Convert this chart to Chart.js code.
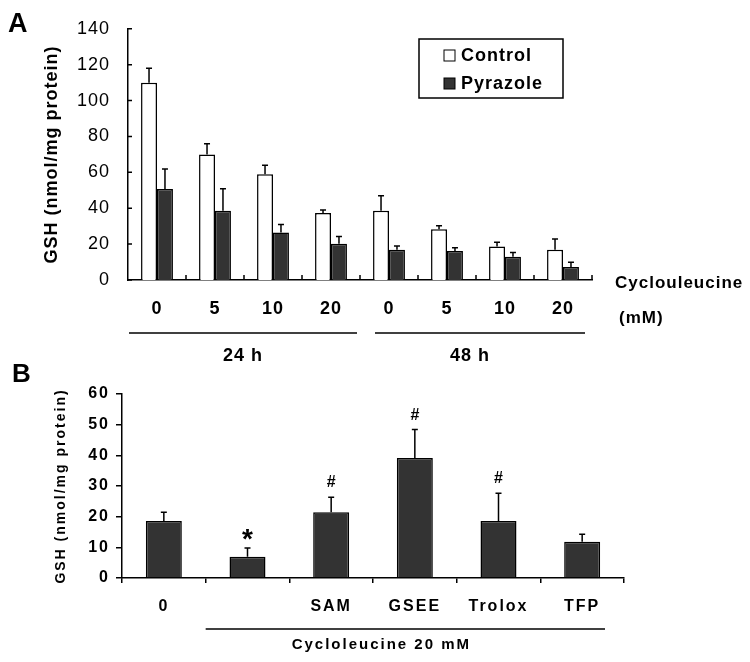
<!DOCTYPE html>
<html>
<head>
<meta charset="utf-8">
<script src="https://cdn.jsdelivr.net/npm/chart.js@4"></script>
<style>
  body { margin: 0; background: #fff; }
  #wrap { position: relative; width: 750px; height: 662px; }
  #chartA { position: absolute; left: 0; top: 0; }
  #chartB { position: absolute; left: 0; top: 340px; }
</style>
</head>
<body>
<div id="wrap">
  <canvas id="chartA" width="750" height="370"></canvas>
  <canvas id="chartB" width="750" height="322"></canvas>
</div>
<script>
// ---------------- data panel A : GSH vs cycloleucine dose -----------------
const doseLabels = ['0', '5', '10', '20', '0', '5', '10', '20'];
const timeGroups = ['24 h', '48 h'];
const controlGSH = [110, 70, 59, 37.3, 38.6, 28.3, 18.7, 16.9];
const controlErr = [8, 6, 5, 1.7, 8.3, 2, 2.3, 5.9];
const pyrazoleGSH = [50.7, 38.6, 26.5, 20.2, 16.9, 16.2, 12.9, 7.3];
const pyrazoleErr = [11.2, 12.3, 4.5, 4.1, 2, 1.8, 2.4, 2.6];
const yTicksA = [0, 20, 40, 60, 80, 100, 120, 140];

// ---------------- data panel B : cycloleucine 20 mM + treatments -----------------
const treatLabels = ['0', '', 'SAM', 'GSEE', 'Trolox', 'TFP'];
const treatGSH = [18.6, 6.9, 21.4, 39.1, 18.6, 11.8];
const treatErr = [2.8, 2.85, 4.9, 9.3, 9, 2.5];
const treatMarks = ['', '*', '#', '#', '#', ''];
const yTicksB = [0, 10, 20, 30, 40, 50, 60];

const family = '"Liberation Sans", Arial, sans-serif';
const dark = '#333333';

function spacing(px) {
	return {
		id: 'spacing',
		beforeDraw(chart) { chart.ctx.letterSpacing = px; }
	};
}

// error bars (upper only) drawn from the bar top
const errorBars = {
	id: 'errorBars',
	afterDatasetsDraw(chart) {
		const ctx = chart.ctx;
		const y = chart.scales.y;
		ctx.save();
		ctx.strokeStyle = '#000';
		ctx.lineWidth = 1.5;
		chart.data.datasets.forEach(function(ds, i) {
			chart.getDatasetMeta(i).data.forEach(function(bar, j) {
				const top = y.getPixelForValue(ds.data[j] + ds.errors[j]);
				ctx.beginPath();
				ctx.moveTo(bar.x, bar.y);
				ctx.lineTo(bar.x, top);
				ctx.moveTo(bar.x - 3, top);
				ctx.lineTo(bar.x + 3, top);
				ctx.stroke();
			});
		});
		ctx.restore();
	}
};

// ---------------- panel A extras -----------------
const panelA = {
	id: 'panelA',
	afterDraw(chart) {
		const ctx = chart.ctx;
		const x = chart.scales.x, y = chart.scales.y;
		const area = chart.chartArea;
		ctx.save();
		ctx.fillStyle = '#000';
		ctx.strokeStyle = '#000';

		// panel letter
		ctx.font = 'bold 27px ' + family;
		ctx.textBaseline = 'alphabetic';
		ctx.textAlign = 'left';
		ctx.fillText('A', 8, 32);

		// inward ticks
		ctx.lineWidth = 1.5;
		ctx.beginPath();
		yTicksA.forEach(function(v) {
			const py = y.getPixelForValue(v);
			ctx.moveTo(area.left, py);
			ctx.lineTo(area.left + 4, py);
		});
		for (let i = 0; i < doseLabels.length; i++) {
			const px = x.getPixelForValue(i + 0.5);
			ctx.moveTo(px, area.bottom);
			ctx.lineTo(px, area.bottom - 5);
		}
		ctx.stroke();

		// time groups
		const lineY = area.bottom + 53;
		const groups = [
			[x.getPixelForValue(-0.5) + 1, x.getPixelForValue(3.5) - 3],
			[x.getPixelForValue(3.5) + 15, x.getPixelForValue(7.5) - 7]
		];
		ctx.font = 'bold 18px ' + family;
		ctx.textAlign = 'center';
		ctx.textBaseline = 'middle';
		groups.forEach(function(g, i) {
			ctx.beginPath();
			ctx.moveTo(g[0], lineY);
			ctx.lineTo(g[1], lineY);
			ctx.stroke();
			ctx.fillText(timeGroups[i], (g[0] + g[1]) / 2 - (i === 1 ? 10 : 0), lineY + 23);
		});

		// axis name on the right
		ctx.font = 'bold 17px ' + family;
		ctx.textAlign = 'left';
		ctx.fillText('Cyclouleucine', area.right + 23, area.bottom + 3);
		ctx.fillText('(mM)', area.right + 27, area.bottom + 38);

		// legend
		ctx.lineWidth = 1.5;
		ctx.strokeRect(419, 39, 144, 59);
		ctx.font = 'bold 18px ' + family;
		chart.data.datasets.forEach(function(ds, i) {
			const cy = 56 + i * 28;
			ctx.fillStyle = ds.backgroundColor;
			ctx.fillRect(444, cy - 6, 11, 11);
			ctx.lineWidth = 1;
			ctx.strokeRect(444, cy - 6, 11, 11);
			ctx.fillStyle = '#000';
			ctx.fillText(ds.label, 461, cy);
		});
		ctx.restore();
	}
};

// ---------------- panel B extras -----------------
const panelB = {
	id: 'panelB',
	afterDraw(chart) {
		const ctx = chart.ctx;
		const x = chart.scales.x, y = chart.scales.y;
		const area = chart.chartArea;
		ctx.save();
		ctx.fillStyle = '#000';
		ctx.strokeStyle = '#000';

		ctx.font = 'bold 26px ' + family;
		ctx.textAlign = 'left';
		ctx.textBaseline = 'alphabetic';
		ctx.fillText('B', 12, 42);

		// significance marks
		ctx.textAlign = 'center';
		const meta = chart.getDatasetMeta(0);
		treatMarks.forEach(function(m, i) {
			if (!m) return;
			const top = y.getPixelForValue(treatGSH[i] + treatErr[i]) - 16;
			if (m === '*') {
				ctx.font = 'bold 28px ' + family;
				ctx.fillText(m, meta.data[i].x + 1, top + 16);
			} else {
				ctx.font = 'bold 16px ' + family;
				ctx.fillText(m, meta.data[i].x + 1, top + 6);
			}
		});

		// group line
		const lineY = area.bottom + 51;
		const x0 = x.getPixelForValue(0.5);
		const x1 = x.getPixelForValue(5.5) - 19;
		ctx.lineWidth = 1.5;
		ctx.beginPath();
		ctx.moveTo(x0, lineY);
		ctx.lineTo(x1, lineY);
		ctx.stroke();
		ctx.font = 'bold 15px ' + family;
		ctx.textBaseline = 'middle';
		ctx.fillText('Cycloleucine 20 mM', (x0 + x1) / 2 - 24, lineY + 16);
		ctx.restore();
	}
};

// ---------------- chart A -----------------
const chartA = new Chart(document.getElementById('chartA'), {
	type: 'bar',
	data: {
		labels: doseLabels,
		datasets: [{
			label: 'Control',
			data: controlGSH,
			errors: controlErr,
			backgroundColor: '#ffffff',
			borderColor: '#000',
			borderWidth: 1.5,
			categoryPercentage: 0.55,
			barPercentage: 1
		}, {
			label: 'Pyrazole',
			data: pyrazoleGSH,
			errors: pyrazoleErr,
			backgroundColor: dark,
			borderColor: '#000',
			borderWidth: 1.5,
			categoryPercentage: 0.55,
			barPercentage: 1
		}]
	},
	options: {
		responsive: false,
		animation: false,
		layout: { padding: { top: 26, right: 158, left: 0, bottom: 0 } },
		plugins: { legend: { display: false }, tooltip: { enabled: false } },
		scales: {
			x: {
				grid: { display: false, drawTicks: false },
				border: { color: '#000', width: 1.5 },
				ticks: { color: '#000', padding: 18, font: { family: family, size: 18, weight: 'bold' } },
				afterFit(s) { s.height = 90; }
			},
			y: {
				min: 0,
				max: 140,
				grid: { display: false, drawTicks: false },
				border: { color: '#000', width: 1.5 },
				ticks: { stepSize: 20, color: '#000', padding: 18, font: { family: family, size: 18 } },
				title: {
					display: true,
					text: 'GSH (nmol/mg protein)',
					color: '#000',
					font: { family: family, size: 18, weight: 'bold' },
					padding: { top: 41, bottom: 0 }
				},
				afterFit(s) { s.width = 128; }
			}
		}
	},
	plugins: [spacing('1px'), errorBars, panelA]
});

// ---------------- chart B -----------------
const chartB = new Chart(document.getElementById('chartB'), {
	type: 'bar',
	data: {
		labels: treatLabels,
		datasets: [{
			label: 'GSH',
			data: treatGSH,
			errors: treatErr,
			backgroundColor: dark,
			borderColor: '#000',
			borderWidth: 1.5,
			categoryPercentage: 1,
			barPercentage: 0.43
		}]
	},
	options: {
		responsive: false,
		animation: false,
		layout: { padding: { top: 54, right: 126, left: 0, bottom: 0 } },
		plugins: { legend: { display: false }, tooltip: { enabled: false } },
		scales: {
			x: {
				grid: { display: true, drawOnChartArea: false, drawTicks: true, tickLength: 5, color: '#000', lineWidth: 1.5 },
				border: { color: '#000', width: 1.5 },
				ticks: { color: '#000', padding: 14, font: { family: family, size: 16, weight: 'bold' } },
				afterFit(s) { s.height = 84; }
			},
			y: {
				min: 0,
				max: 60,
				grid: { display: true, drawOnChartArea: false, drawTicks: true, tickLength: 6, color: '#000', lineWidth: 1.5 },
				border: { color: '#000', width: 1.5 },
				ticks: { stepSize: 10, color: '#000', padding: 6, font: { family: family, size: 16, weight: 'bold' } },
				title: {
					display: true,
					text: 'GSH (nmol/mg protein)',
					color: '#000',
					font: { family: family, size: 14, weight: 'bold' },
					padding: { top: 53, bottom: 0 }
				},
				afterFit(s) { s.width = 122; }
			}
		}
	},
	plugins: [spacing('2px'), errorBars, panelB]
});
</script>
</body>
</html>
